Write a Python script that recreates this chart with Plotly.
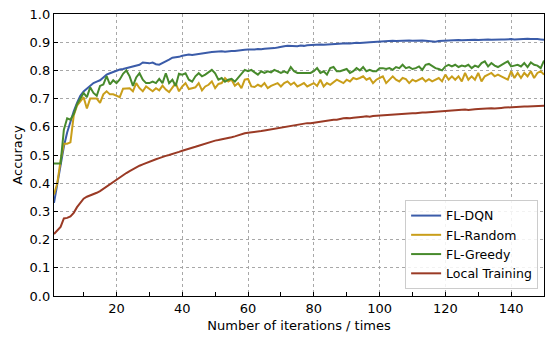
import plotly.graph_objects as go

iterations = list(range(1, 151))

fl_dqn = [
    0.33, 0.40, 0.47, 0.53, 0.58, 0.62, 0.655, 0.685, 0.71, 0.725,
    0.735, 0.745, 0.755, 0.76, 0.765, 0.775, 0.785, 0.79, 0.795, 0.80,
    0.803, 0.805, 0.808, 0.81, 0.812, 0.815, 0.82, 0.828, 0.826, 0.825,
    0.828, 0.822, 0.82, 0.826, 0.83, 0.838, 0.845, 0.846, 0.848, 0.852,
    0.854, 0.856, 0.855, 0.857, 0.858, 0.86, 0.862, 0.864, 0.865, 0.866,
    0.867, 0.868, 0.866, 0.868, 0.869, 0.869, 0.871, 0.872, 0.873, 0.874,
    0.873, 0.874, 0.876, 0.875, 0.877, 0.877, 0.878, 0.879, 0.881, 0.884,
    0.886, 0.887, 0.886, 0.885, 0.886, 0.888, 0.887, 0.889, 0.89, 0.891,
    0.89, 0.892, 0.891, 0.892, 0.893, 0.894, 0.893, 0.895, 0.895, 0.896,
    0.895, 0.897, 0.898, 0.897, 0.899, 0.899, 0.90, 0.901, 0.902, 0.902,
    0.903, 0.904, 0.904, 0.905, 0.904, 0.905, 0.904, 0.905, 0.906, 0.905,
    0.906, 0.905, 0.906, 0.905, 0.904, 0.903, 0.902, 0.904, 0.905, 0.906,
    0.907, 0.908, 0.907, 0.908, 0.907, 0.908, 0.908, 0.909, 0.909, 0.908,
    0.909, 0.909, 0.91, 0.909, 0.91, 0.909, 0.91, 0.91, 0.911, 0.911,
    0.91, 0.911, 0.912, 0.911, 0.912, 0.911, 0.912, 0.911, 0.91, 0.909,
]

fl_random = [
    0.36, 0.40, 0.48, 0.54, 0.54, 0.545, 0.64, 0.675, 0.69, 0.705,
    0.665, 0.70, 0.70, 0.70, 0.685, 0.715, 0.726, 0.715, 0.715, 0.71,
    0.705, 0.735, 0.735, 0.737, 0.726, 0.755, 0.737, 0.726, 0.743, 0.734,
    0.726, 0.737, 0.729, 0.746, 0.732, 0.723, 0.737, 0.755, 0.726, 0.743,
    0.755, 0.734, 0.737, 0.74, 0.755, 0.729, 0.743, 0.749, 0.761, 0.737,
    0.752, 0.755, 0.773, 0.761, 0.767, 0.746, 0.755, 0.737, 0.767, 0.77,
    0.743, 0.741, 0.749, 0.743, 0.755, 0.737, 0.745, 0.749, 0.755, 0.743,
    0.755, 0.761, 0.749, 0.757, 0.743, 0.749, 0.755, 0.743, 0.749, 0.755,
    0.745, 0.767, 0.743, 0.755, 0.749, 0.757, 0.767, 0.761, 0.755, 0.767,
    0.761, 0.773, 0.769, 0.773, 0.779, 0.767, 0.773, 0.755, 0.767, 0.773,
    0.779, 0.755, 0.769, 0.779, 0.767, 0.761, 0.773, 0.769, 0.755, 0.767,
    0.761, 0.767, 0.773, 0.761, 0.769, 0.761, 0.767, 0.773, 0.761, 0.785,
    0.767, 0.779, 0.767, 0.779, 0.761, 0.791, 0.767, 0.779, 0.767, 0.791,
    0.761, 0.779, 0.785, 0.791, 0.779, 0.785, 0.779, 0.773, 0.767, 0.797,
    0.773, 0.791, 0.773, 0.791, 0.779, 0.797, 0.773, 0.791, 0.797, 0.785,
]

fl_greedy = [
    0.47, 0.47, 0.47, 0.59, 0.63, 0.625, 0.645, 0.68, 0.70, 0.72,
    0.705, 0.74, 0.72, 0.71, 0.745, 0.75, 0.78, 0.75, 0.765, 0.755,
    0.768, 0.788, 0.80, 0.779, 0.745, 0.775, 0.79, 0.767, 0.755, 0.755,
    0.76, 0.755, 0.77, 0.755, 0.79, 0.755, 0.767, 0.745, 0.788, 0.785,
    0.79, 0.767, 0.76, 0.779, 0.79, 0.779, 0.785, 0.795, 0.802, 0.79,
    0.767, 0.773, 0.76, 0.767, 0.77, 0.76, 0.773, 0.79, 0.802, 0.797,
    0.802, 0.793, 0.785, 0.797, 0.791, 0.797, 0.793, 0.802, 0.797, 0.791,
    0.797, 0.791, 0.812, 0.797, 0.791, 0.791, 0.793, 0.791, 0.791, 0.797,
    0.808, 0.791, 0.797, 0.785, 0.808, 0.812, 0.797, 0.797, 0.802, 0.805,
    0.791, 0.797, 0.808, 0.80, 0.812, 0.797, 0.802, 0.797, 0.797, 0.808,
    0.808, 0.805, 0.808, 0.802, 0.812, 0.808, 0.82, 0.808, 0.812, 0.805,
    0.808, 0.814, 0.802, 0.82, 0.823, 0.814, 0.808, 0.805, 0.80, 0.814,
    0.82, 0.814, 0.82, 0.812, 0.817, 0.814, 0.82, 0.808, 0.817, 0.812,
    0.826, 0.832, 0.814, 0.826, 0.817, 0.812, 0.82, 0.826, 0.832, 0.814,
    0.817, 0.82, 0.814, 0.826, 0.812, 0.828, 0.82, 0.817, 0.808, 0.835,
]

local_training = [
    0.22, 0.232, 0.245, 0.275, 0.277, 0.282, 0.295, 0.315, 0.33, 0.345,
    0.352, 0.356, 0.362, 0.366, 0.372, 0.38, 0.39, 0.398, 0.407, 0.415,
    0.423, 0.43, 0.436, 0.443, 0.45, 0.456, 0.462, 0.467, 0.472, 0.476,
    0.48, 0.485, 0.489, 0.494, 0.497, 0.50, 0.503, 0.507, 0.511, 0.515,
    0.518, 0.521, 0.525, 0.529, 0.533, 0.537, 0.54, 0.545, 0.548, 0.551,
    0.553, 0.555, 0.557, 0.56, 0.563, 0.566, 0.57, 0.574, 0.577, 0.579,
    0.58, 0.581, 0.583, 0.585, 0.587, 0.589, 0.59, 0.593, 0.596, 0.598,
    0.60, 0.601, 0.603, 0.605, 0.608, 0.61, 0.612, 0.613, 0.613, 0.615,
    0.617, 0.619, 0.62, 0.621, 0.624, 0.625, 0.625, 0.628, 0.63, 0.631,
    0.63, 0.632, 0.634, 0.634, 0.636, 0.637, 0.636, 0.638, 0.639, 0.64,
    0.64, 0.642, 0.641, 0.643, 0.644, 0.645, 0.645, 0.646, 0.647, 0.648,
    0.648, 0.65, 0.651, 0.651, 0.652, 0.652, 0.654, 0.655, 0.655, 0.656,
    0.657, 0.658, 0.658, 0.659, 0.66, 0.661, 0.66, 0.662, 0.662, 0.663,
    0.664, 0.664, 0.665, 0.666, 0.665, 0.667, 0.667, 0.668, 0.669, 0.669,
    0.67, 0.67, 0.671, 0.672, 0.672, 0.673, 0.673, 0.674, 0.674, 0.675,
]

series_names = ["FL-DQN", "FL-Random", "FL-Greedy", "Local Training"]
series_values = [fl_dqn, fl_random, fl_greedy, local_training]
series_colors = ["#3b5ca9", "#c99e1a", "#478a2c", "#9a3a25"]

x_tick_vals = [20, 40, 60, 80, 100, 120, 140]
y_tick_vals = [0.0, 0.1, 0.2, 0.3, 0.4, 0.5, 0.6, 0.7, 0.8, 0.9, 1.0]

FONT = "DejaVu Sans"
FS = 13

fig = go.Figure()
for name, vals, col in zip(series_names, series_values, series_colors):
    fig.add_trace(go.Scatter(
        x=iterations, y=vals, mode="lines", name=name,
        line=dict(color=col, width=2),
    ))

fig.update_layout(
    width=550, height=342,
    margin=dict(l=54, r=6, t=14, b=46),
    paper_bgcolor="white", plot_bgcolor="white",
    font=dict(family=FONT, size=FS, color="black"),
    legend=dict(
        x=0.988, y=0.025, xanchor="right", yanchor="bottom",
        bgcolor="rgba(255,255,255,0.85)", bordercolor="#cccccc", borderwidth=1,
        font=dict(family=FONT, size=12.5, color="black"),
        tracegroupgap=0, itemwidth=30,
    ),
    showlegend=True,
)

fig.update_xaxes(
    range=[1, 150], tickvals=x_tick_vals, automargin=False,
    ticks="inside", ticklen=4, tickwidth=1, tickcolor="black",
    minor=dict(dtick=10, tick0=0, ticks="inside", ticklen=4, tickcolor="black", showgrid=False),
    showgrid=True, gridcolor="#a8a8a8", griddash="dot", gridwidth=0.8,
    showline=True, linecolor="black", linewidth=1.3, mirror=True,
    zeroline=False,
    title=dict(text="Number of iterations / times", font=dict(family=FONT, size=FS), standoff=6),
    tickfont=dict(family=FONT, size=FS),
)
fig.update_yaxes(
    range=[0, 1.0], tickvals=y_tick_vals, ticktext=[f"{v:.1f}" for v in y_tick_vals],
    automargin=False,
    ticks="inside", ticklen=4, tickwidth=1, tickcolor="black",
    showgrid=True, gridcolor="#a8a8a8", griddash="dot", gridwidth=0.8,
    showline=True, linecolor="black", linewidth=1.3, mirror=True,
    zeroline=False,
    title=dict(text="Accuracy", font=dict(family=FONT, size=FS), standoff=4),
    tickfont=dict(family=FONT, size=FS),
)

fig.write_html(
    "out.html",
    config={"displayModeBar": False},
    post_script="document.body.style.margin='0px';document.body.style.overflow='hidden';",
)
